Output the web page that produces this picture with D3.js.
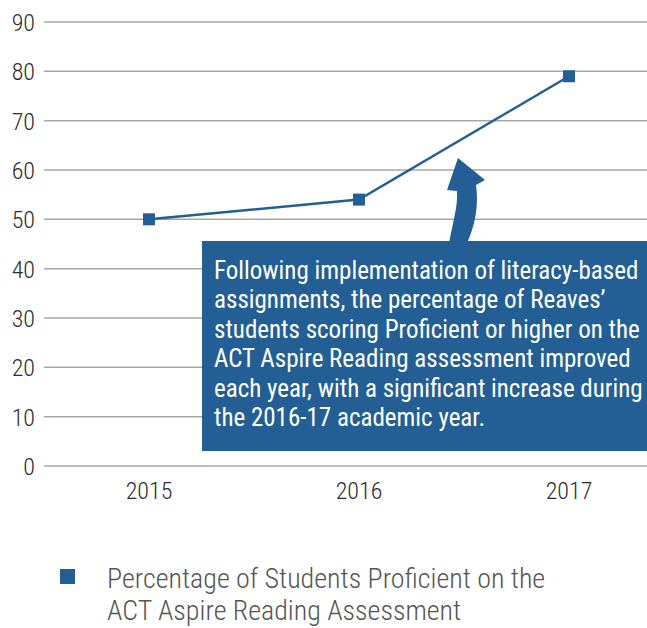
<!DOCTYPE html>
<html>
<head>
<meta charset="utf-8">
<script src="https://cdn.jsdelivr.net/npm/d3@7"></script>
<style>
  body { margin: 0; background: #fff; }
  svg { display: block; font-family: "Roboto Condensed", "Liberation Sans Narrow", "Liberation Sans", sans-serif; }
</style>
</head>
<body>
<svg id="chart" width="647" height="628"></svg>
<script>
// Chart data
const years = ['2015', '2016', '2017'];
const proficient = [50, 54, 79];
const yTicks = [0, 10, 20, 30, 40, 50, 60, 70, 80, 90];
const seriesLabel = ['Percentage of Students Proficient on the', 'ACT Aspire Reading Assessment'];
const noteLines = [
  'Following implementation of literacy-based',
  'assignments, the percentage of Reaves\u2019',
  'students scoring Proficient or higher on the',
  'ACT Aspire Reading assessment improved',
  'each year, with a significant increase during',
  'the 2016-17 academic year.'
];

const blue = '#235f94';
const svg = d3.select('#chart');

const x = d3.scaleBand().domain(years).range([44, 674]);
const y = d3.scaleLinear().domain([0, 90]).range([466, 22]);

// Gridlines
svg.append('g')
  .selectAll('line')
  .data(yTicks)
  .enter()
  .append('line')
  .attr('x1', 44)
  .attr('x2', 647)
  .attr('y1', d => y(d))
  .attr('y2', d => y(d))
  .attr('stroke', '#aaa7a2')
  .attr('stroke-width', 1.5);

// Y axis labels
svg.append('g')
  .selectAll('text')
  .data(yTicks)
  .enter()
  .append('text')
  .attr('x', 35)
  .attr('y', d => y(d))
  .attr('dy', '0.38em')
  .attr('text-anchor', 'end')
  .style('font-size', '24px')
  .style('font-weight', '300')
  .style('fill', '#2b2b2b')
  .text(d => d);

// X axis labels
svg.append('g')
  .selectAll('text')
  .data(years)
  .enter()
  .append('text')
  .attr('x', d => x(d) + x.bandwidth() / 2)
  .attr('y', 499)
  .attr('text-anchor', 'middle')
  .style('font-size', '24px')
  .style('font-weight', '300')
  .style('fill', '#2b2b2b')
  .text(d => d);

// Series line + square markers
const pts = years.map((yr, i) => ({ yr, v: proficient[i] }));
const line = d3.line()
  .x(d => x(d.yr) + x.bandwidth() / 2)
  .y(d => y(d.v));

svg.append('path')
  .datum(pts)
  .attr('d', line)
  .attr('fill', 'none')
  .attr('stroke', blue)
  .attr('stroke-width', 2.5);

svg.append('g')
  .selectAll('rect')
  .data(pts)
  .enter()
  .append('rect')
  .attr('x', d => x(d.yr) + x.bandwidth() / 2 - 6)
  .attr('y', d => y(d.v) - 6)
  .attr('width', 12)
  .attr('height', 12)
  .attr('fill', blue);

// Annotation box
const note = svg.append('g');
note.append('rect')
  .attr('x', 202)
  .attr('y', 241)
  .attr('width', 460)
  .attr('height', 210)
  .attr('fill', blue);

// Curved arrow pointing at the 2016-17 segment
note.append('path')
  .attr('d', 'M449,243 C453,222 458,206 457,191 L447,190 L458,158 L485,180 L476,185 C479,205 475,226 467,243 Z')
  .attr('fill', blue);

note.append('g')
  .selectAll('text')
  .data(noteLines)
  .enter()
  .append('text')
  .attr('x', 214)
  .attr('y', (d, i) => 279 + i * 29.4)
  .style('font-size', '25px')
  .style('fill', '#fff')
  .text(d => d);

// Legend
svg.append('rect')
  .attr('x', 60)
  .attr('y', 569)
  .attr('width', 15)
  .attr('height', 15)
  .attr('fill', blue);

svg.append('g')
  .selectAll('text')
  .data(seriesLabel)
  .enter()
  .append('text')
  .attr('x', 107)
  .attr('y', (d, i) => 588 + i * 32)
  .style('font-size', '28px')
  .style('font-weight', '300')
  .style('fill', '#555')
  .text(d => d);
</script>
</body>
</html>
